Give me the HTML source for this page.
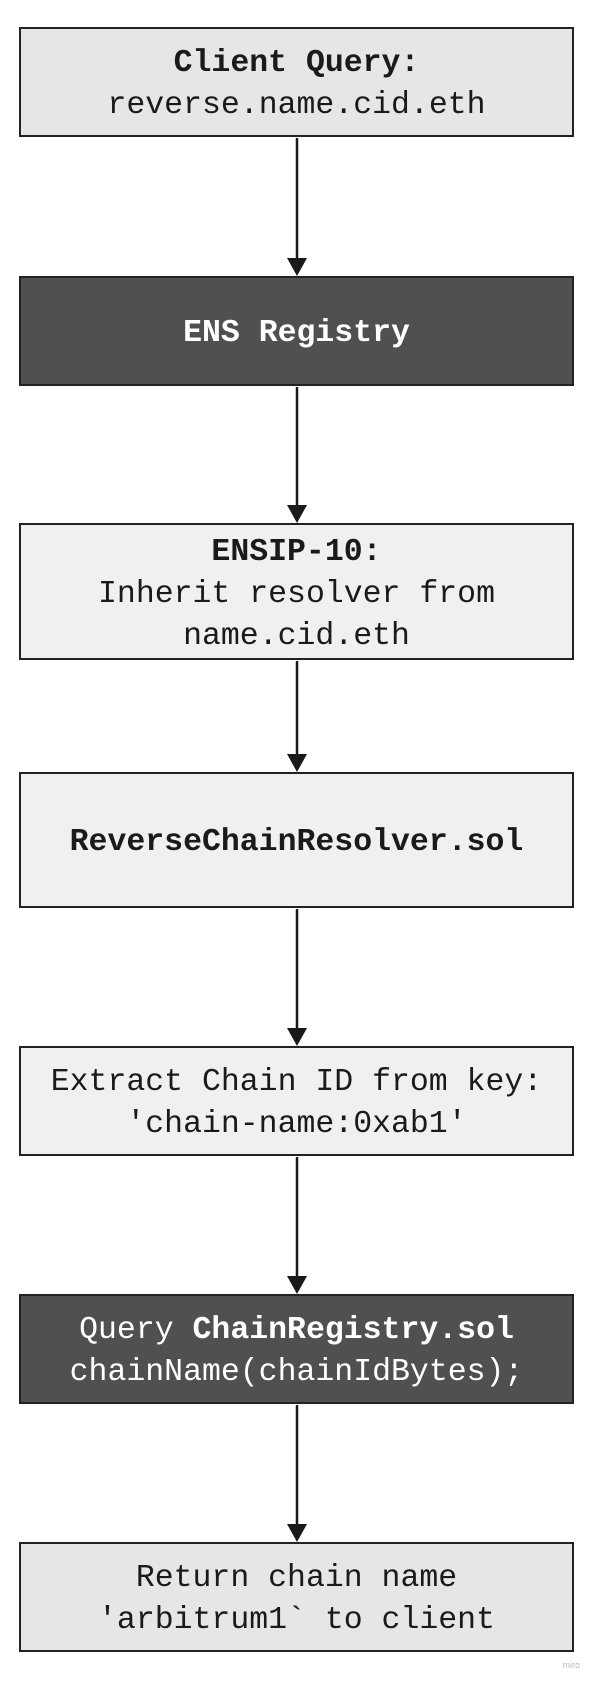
<!DOCTYPE html>
<html><head><style>
html,body{margin:0;padding:0;background:#fff;}
body{width:594px;height:1681px;position:relative;overflow:hidden;font-family:"Liberation Mono",monospace;}
.b{position:absolute;left:19px;width:551px;border:2.5px solid #222;display:flex;flex-direction:column;align-items:center;justify-content:center;font-size:31.5px;line-height:42px;color:#1a1a1a;text-align:center;padding-top:6px;box-sizing:content-box;}
.l{background:#e6e6e6}.m{background:#f0f0f0}.d{background:#505050;color:#fff}
b{font-weight:bold}
.mark{position:absolute;right:14px;top:1660px;font:9px "Liberation Sans",sans-serif;color:#bbb}
</style></head><body>
<svg width="594" height="1681" style="position:absolute;left:0;top:0">
<g stroke="#1a1a1a" stroke-width="2.5" fill="#1a1a1a">
<line x1="297" y1="138" x2="297" y2="266"/><polygon points="287,258 307,258 297,276" stroke="none"/>
<line x1="297" y1="387" x2="297" y2="513"/><polygon points="287,505 307,505 297,523" stroke="none"/>
<line x1="297" y1="661" x2="297" y2="762"/><polygon points="287,754 307,754 297,772" stroke="none"/>
<line x1="297" y1="909" x2="297" y2="1036"/><polygon points="287,1028 307,1028 297,1046" stroke="none"/>
<line x1="297" y1="1157" x2="297" y2="1284"/><polygon points="287,1276 307,1276 297,1294" stroke="none"/>
<line x1="297" y1="1405" x2="297" y2="1532"/><polygon points="287,1524 307,1524 297,1542" stroke="none"/>
</g></svg>
<div class="b l" style="top:27px;height:100px"><b>Client Query:</b><span>reverse.name.cid.eth</span></div>
<div class="b d" style="top:276px;height:100px"><b>ENS Registry</b></div>
<div class="b m" style="top:523px;height:127px"><b>ENSIP-10:</b><span>Inherit resolver from</span><span>name.cid.eth</span></div>
<div class="b m" style="top:772px;height:126px"><b>ReverseChainResolver.sol</b></div>
<div class="b m" style="top:1046px;height:100px"><span>Extract Chain ID from key:</span><span>'chain-name:0xab1'</span></div>
<div class="b d" style="top:1294px;height:100px"><span>Query <b>ChainRegistry.sol</b></span><span>chainName(chainIdBytes);</span></div>
<div class="b l" style="top:1542px;height:100px"><span>Return chain name</span><span>'arbitrum1` to client</span></div>
<div class="mark">miro</div>
</body></html>
